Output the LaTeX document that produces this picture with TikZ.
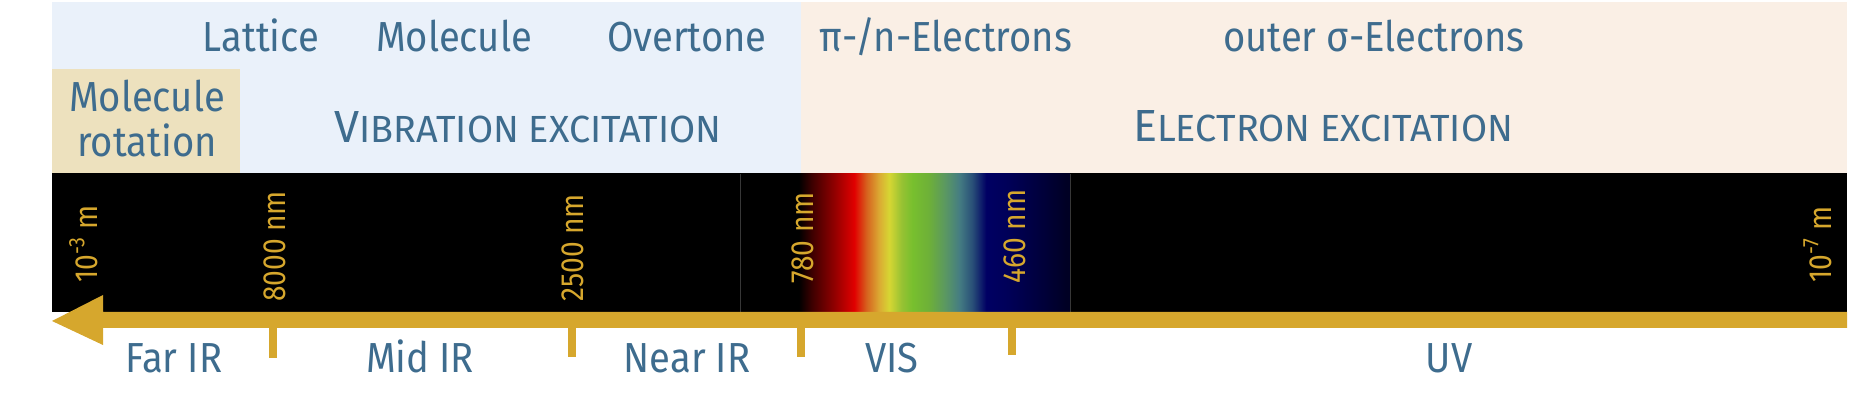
\documentclass[tikz,border=0pt]{standalone}
\usepackage{fontspec}
\setmainfont{Fira Sans}[FakeStretch=0.91]
\newfontfamily\scfont{Fira Sans}
\newfontfamily\numfont{Fira Sans}[FakeStretch=0.88]
\definecolor{txtblue}{RGB}{62,108,142}
\definecolor{gold}{RGB}{214,167,45}
\definecolor{bgblue}{RGB}{234,241,250}
\definecolor{bgpeach}{RGB}{250,239,229}
\definecolor{beige}{RGB}{237,225,190}
\definecolor{sepgray}{RGB}{55,55,55}
\pgfdeclarehorizontalshading{spectrum}{100bp}{%
rgb(0bp)=(0,0,0);
rgb(25bp)=(0,0,0);
rgb(33.9bp)=(0,0,0);
rgb(35.9bp)=(0.24,0,0);
rgb(39.5bp)=(0.59,0,0);
rgb(42.3bp)=(0.88,0,0);
rgb(44.2bp)=(0.84,0.39,0.12);
rgb(46.1bp)=(0.86,0.67,0.2);
rgb(47.6bp)=(0.84,0.84,0.2);
rgb(49.5bp)=(0.59,0.76,0.2);
rgb(51.1bp)=(0.47,0.75,0.18);
rgb(53.6bp)=(0.43,0.69,0.22);
rgb(56.2bp)=(0.35,0.59,0.39);
rgb(58.2bp)=(0.27,0.49,0.51);
rgb(60.2bp)=(0.16,0.31,0.47);
rgb(62.3bp)=(0,0,0.39);
rgb(65.3bp)=(0,0,0.35);
rgb(70.3bp)=(0,0,0.24);
rgb(74.5bp)=(0,0,0.14);
rgb(75bp)=(0,0,0.14);
rgb(100bp)=(0,0,0.14)}
\begin{document}
\begin{tikzpicture}[x=0.5pt,y=-0.5pt,
  lbl/.style={text=txtblue, font=\fontsize{21}{25}\selectfont, inner sep=0, anchor=base},
  sclbl/.style={text=txtblue, font=\scfont, inner sep=0, anchor=base},
  vlbl/.style={text=gold, font=\numfont\fontsize{16}{18}\selectfont, rotate=90, anchor=base west, inner sep=0},
  tickmark/.style={fill=gold},
  sepline/.style={draw=sepgray, line width=0.5pt}]
\useasboundingbox (0,0) rectangle (1855,405);
% backgrounds
\fill[bgblue] (52,2) rectangle (801,173);
\fill[bgpeach] (801,2) rectangle (1847,173);
\fill[beige] (52,69) rectangle (240,173);
% spectrum band
\fill[black] (52,173) rectangle (1847,312);
\shade[shading=spectrum] (740,174) rectangle (1070,312);
\draw[sepline] (740,174) -- (740,312);
\draw[sepline] (1070,174) -- (1070,312);
% arrow
\fill[gold] (1847,312) -- (103,312) -- (103,295) -- (52,321) -- (103,345) -- (103,328) -- (1847,328) -- cycle;
% ticks
\fill[tickmark] (269,328) rectangle (277,358);
\fill[tickmark] (568,328) rectangle (576,357);
\fill[tickmark] (797,328) rectangle (805,357);
\fill[tickmark] (1008,328) rectangle (1016,355);
% top row
\node[lbl] (lat) at (261,52) {Lattice};
\node[lbl] (mol) at (454,52) {Molecule};
\node[lbl] (ovt) at (687,52) {Overtone};
\node[lbl] (pin) at (946,52) {π-/n-Electrons};
\node[lbl] (sig) at (1374,52) {outer σ-Electrons};
% second row
\node[lbl] (mr1) at (147,112) {Molecule};
\node[lbl] (mr2) at (147,157) {rotation};
\node[sclbl] (vib) at (528,143) {{\fontsize{22.5}{25}\selectfont V}{\fontsize{18.9}{25}\selectfont IBRATION EXCITATION}};
\node[sclbl] (ele) at (1323,142) {{\fontsize{22.5}{25}\selectfont E}{\fontsize{18.9}{25}\selectfont LECTRON EXCITATION}};
% vertical wavelength labels
\node[vlbl] (w1) at (97,283) {10\textsuperscript{-3} m};
\node[vlbl] (w2) at (285,302) {8000 nm};
\node[vlbl] (w3) at (583,302) {2500 nm};
\node[vlbl] (w4) at (813,284) {780 nm};
\node[vlbl] (w5) at (1025,284) {460 nm};
\node[vlbl] (w6) at (1831,283) {10\textsuperscript{-7} m};
% bottom labels
\node[lbl] (fir) at (174,372) {Far IR};
\node[lbl] (mir) at (420,372) {Mid IR};
\node[lbl] (nir) at (687,372) {Near IR};
\node[lbl] (vis) at (892,372) {VIS};
\node[lbl] (uv) at (1449,372) {UV};
\end{tikzpicture}
\end{document}
